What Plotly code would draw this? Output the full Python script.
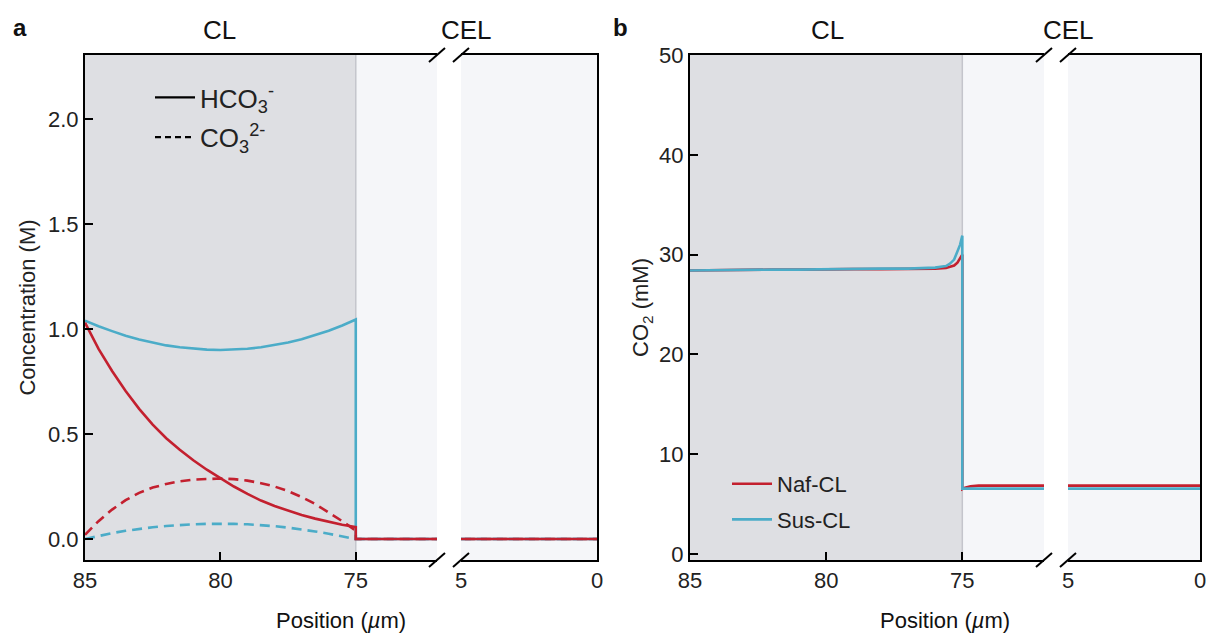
import plotly.graph_objects as go

W, H = 1215, 637

# ---------------- data ----------------
# panel a: positions in CL (µm) and concentrations (M)
pos_a_cl = [85, 84.5, 84, 83.5, 83, 82.5, 82, 81.5, 81, 80.5, 80, 79.5, 79, 78.5, 78,
            77.5, 77, 76.5, 76, 75.5, 75]
naf_hco3_cl = [1.03, 0.905, 0.80, 0.705, 0.62, 0.545, 0.48, 0.425, 0.375, 0.33, 0.29, 0.25,
               0.215, 0.183, 0.157, 0.134, 0.114, 0.097, 0.082, 0.068, 0.057]
sus_hco3_cl = [1.04, 1.013, 0.99, 0.968, 0.95, 0.935, 0.922, 0.913, 0.906, 0.902, 0.90, 0.902,
               0.906, 0.913, 0.923, 0.936, 0.951, 0.97, 0.992, 1.017, 1.045]
naf_co3_cl = [0.02, 0.085, 0.14, 0.185, 0.22, 0.245, 0.262, 0.275, 0.283, 0.287, 0.288, 0.285,
              0.278, 0.266, 0.25, 0.228, 0.20, 0.167, 0.128, 0.085, 0.04]
sus_co3_cl = [0.0, 0.015, 0.028, 0.039, 0.048, 0.056, 0.062, 0.067, 0.07, 0.072, 0.073, 0.072,
              0.07, 0.066, 0.061, 0.054, 0.046, 0.036, 0.025, 0.013, 0.002]
# CEL part (membrane side)
pos_a_cel = [75, 72, 5, 0]
naf_hco3_cel = [0, 0, 0, 0]
sus_hco3_cel = [0, 0, 0, 0]
naf_co3_cel = [0, 0, 0, 0]
sus_co3_cel = [0, 0, 0, 0]

# panel b: CO2 (mM)
pos_b_cl = [85, 84, 83, 82, 81, 80, 79, 78, 77, 76, 75.6, 75.45, 75.3, 75.18, 75.08, 75.0]
naf_co2_cl = [28.4, 28.45, 28.5, 28.5, 28.5, 28.55, 28.55, 28.55, 28.55, 28.6, 28.65, 28.75,
              28.9, 29.2, 29.6, 30.0]
sus_co2_cl = [28.4, 28.45, 28.5, 28.5, 28.5, 28.55, 28.55, 28.6, 28.6, 28.7, 28.85, 29.1,
              29.5, 30.4, 31.0, 31.9]
pos_b_cel = [75.0, 74.9, 74.7, 74.4, 72, 5, 0]
naf_co2_cel = [6.5, 6.65, 6.78, 6.85, 6.85, 6.85, 6.85]
sus_co2_cel = [6.55, 6.55, 6.55, 6.55, 6.55, 6.55, 6.55]

ticks_left = [85, 80, 75]
ticks_right = [5, 0]
yticks_a = [0.0, 0.5, 1.0, 1.5, 2.0]
yticks_b = [0, 10, 20, 30, 40, 50]

RED = "#c3202f"
BLUE = "#4bacc8"
GRAY = "#dedfe3"
LIGHT = "#f5f6f9"
FONT = "Liberation Sans, Arial, sans-serif"
DASH = "10px,6px"

def px_x(p):
    return p / W

def px_y(p):
    return 1 - p / H

top, bot = 55, 560
a_l0, a_l1, a_r0, a_r1 = 85, 437, 461, 597
b_l0, b_l1, b_r0, b_r1 = 690, 1044, 1068, 1200

fig = go.Figure()

def add(xax, yax, x, y, color, dash="solid", name=None, showlegend=False, legend=None, group=None):
    kw = {}
    if legend:
        kw["legend"] = legend
    if group:
        kw["legendgroup"] = group
    fig.add_trace(go.Scatter(x=x, y=y, mode="lines", xaxis=xax, yaxis=yax,
                             line=dict(color=color, width=2.6, dash=dash),
                             name=name, showlegend=showlegend, hoverinfo="skip", **kw))

# panel a traces (left and right segments)
for xa, ya in [("x", "y"), ("x2", "y2")]:
    add(xa, ya, pos_a_cl + pos_a_cel, sus_co3_cl + sus_co3_cel, BLUE, DASH)
    add(xa, ya, pos_a_cl + pos_a_cel, naf_co3_cl + naf_co3_cel, RED, DASH)
    add(xa, ya, pos_a_cl + pos_a_cel, sus_hco3_cl + sus_hco3_cel, BLUE)
    add(xa, ya, pos_a_cl + pos_a_cel, naf_hco3_cl + naf_hco3_cel, RED)

# legend entries for panel a
fig.add_trace(go.Scatter(x=[None], y=[None], mode="lines", xaxis="x", yaxis="y",
                         line=dict(color="black", width=2.2),
                         name="HCO<sub>3</sub><sup>-</sup>", legendgroup="g1"))
fig.add_trace(go.Scatter(x=[None], y=[None], mode="lines", xaxis="x", yaxis="y",
                         line=dict(color="black", width=2.2, dash="6px,4px"),
                         name="CO<sub>3</sub><sup>2-</sup>", legendgroup="g2"))

# panel b traces
for i, (xa, ya) in enumerate([("x3", "y3"), ("x4", "y4")]):
    add(xa, ya, pos_b_cl + pos_b_cel, naf_co2_cl + naf_co2_cel, RED,
        name="Naf-CL", showlegend=(i == 0), legend="legend2", group="naf")
    add(xa, ya, pos_b_cl + pos_b_cel, sus_co2_cl + sus_co2_cel, BLUE,
        name="Sus-CL", showlegend=(i == 0), legend="legend2", group="sus")

axis_common = dict(showline=True, linecolor="black", linewidth=2, ticks="inside",
                   ticklen=8, tickwidth=2, tickcolor="black", showgrid=False,
                   zeroline=False, automargin=False,
                   tickfont=dict(size=22, family=FONT, color="#222"))

def xaxis(d0, d1, rng, tv, anchor):
    return dict(axis_common, domain=[px_x(d0), px_x(d1)], range=rng, tickvals=tv,
                mirror=True, anchor=anchor)

layout = dict(
    width=W, height=H, margin=dict(l=0, r=0, t=0, b=0),
    paper_bgcolor="white", plot_bgcolor=LIGHT,
    font=dict(family=FONT, size=22, color="#222"),
    xaxis=xaxis(a_l0, a_l1, [85, 72], ticks_left, "y"),
    xaxis2=xaxis(a_r0, a_r1, [5, 0], ticks_right, "y2"),
    xaxis3=xaxis(b_l0, b_l1, [85, 72], ticks_left, "y3"),
    xaxis4=xaxis(b_r0, b_r1, [5, 0], ticks_right, "y4"),
    yaxis=dict(axis_common, domain=[px_y(bot), px_y(top)], range=[-0.1, 2.305],
               tickvals=yticks_a, ticktext=["0.0", "0.5", "1.0", "1.5", "2.0"],
               anchor="x", title=dict(text="Concentration (M)", font=dict(size=22), standoff=6)),
    yaxis2=dict(axis_common, domain=[px_y(bot), px_y(top)], range=[-0.1, 2.305],
                matches="y", anchor="x2", side="right", ticks="", showticklabels=False),
    yaxis3=dict(axis_common, domain=[px_y(bot), px_y(top)], range=[-0.6, 50],
                tickvals=yticks_b, anchor="x3",
                title=dict(text="CO<sub>2</sub> (mM)", font=dict(size=22), standoff=4)),
    yaxis4=dict(axis_common, domain=[px_y(bot), px_y(top)], range=[-0.6, 50],
                matches="y3", anchor="x4", side="right", ticks="", showticklabels=False),
    legend=dict(x=px_x(150), y=px_y(74), xanchor="left", yanchor="top",
                bgcolor="rgba(0,0,0,0)", font=dict(size=26, family=FONT, color="#222"),
                traceorder="grouped", tracegroupgap=3, itemwidth=40),
    legend2=dict(x=px_x(727), y=px_y(463), xanchor="left", yanchor="top",
                 bgcolor="rgba(0,0,0,0)", font=dict(size=22, family=FONT, color="#222"),
                 traceorder="grouped", tracegroupgap=4, itemwidth=40),
)
fig.update_layout(**layout)

shapes = []
for xr in ["x", "x3"]:
    shapes.append(dict(type="rect", xref=xr, yref=xr.replace("x", "y") + " domain",
                       x0=85, x1=75, y0=0, y1=1, fillcolor=GRAY, line_width=0, layer="below"))
    shapes.append(dict(type="line", xref=xr, yref=xr.replace("x", "y") + " domain",
                       x0=75, x1=75, y0=0, y1=1, line=dict(color="#c4c5cc", width=1.5),
                       layer="below"))
# axis break marks
for xb in [a_l1, a_r0, b_l1, b_r0]:
    for yb in [top, bot]:
        shapes.append(dict(type="line", xref="paper", yref="paper",
                           x0=px_x(xb - 8), y0=px_y(yb + 7), x1=px_x(xb + 8), y1=px_y(yb - 7),
                           line=dict(color="black", width=2)))
fig.update_layout(shapes=shapes)

ann = []
def txt(x, y, s, size=22, bold=False):
    ann.append(dict(xref="paper", yref="paper", x=px_x(x), y=px_y(y),
                    text=("<b>%s</b>" % s) if bold else s,
                    showarrow=False, font=dict(size=size, family=FONT, color="#111"),
                    xanchor="center", yanchor="middle"))
txt(20, 28, "a", 24, True)
txt(620, 28, "b", 24, True)
txt(219, 30, "CL", 26)
txt(466, 30, "CEL", 26)
txt(827, 30, "CL", 26)
txt(1068, 30, "CEL", 26)
txt(341, 620, "Position (<i>µ</i>m)", 22)
txt(945, 620, "Position (<i>µ</i>m)", 22)
fig.update_layout(annotations=ann)

fig.write_html("out.html")
